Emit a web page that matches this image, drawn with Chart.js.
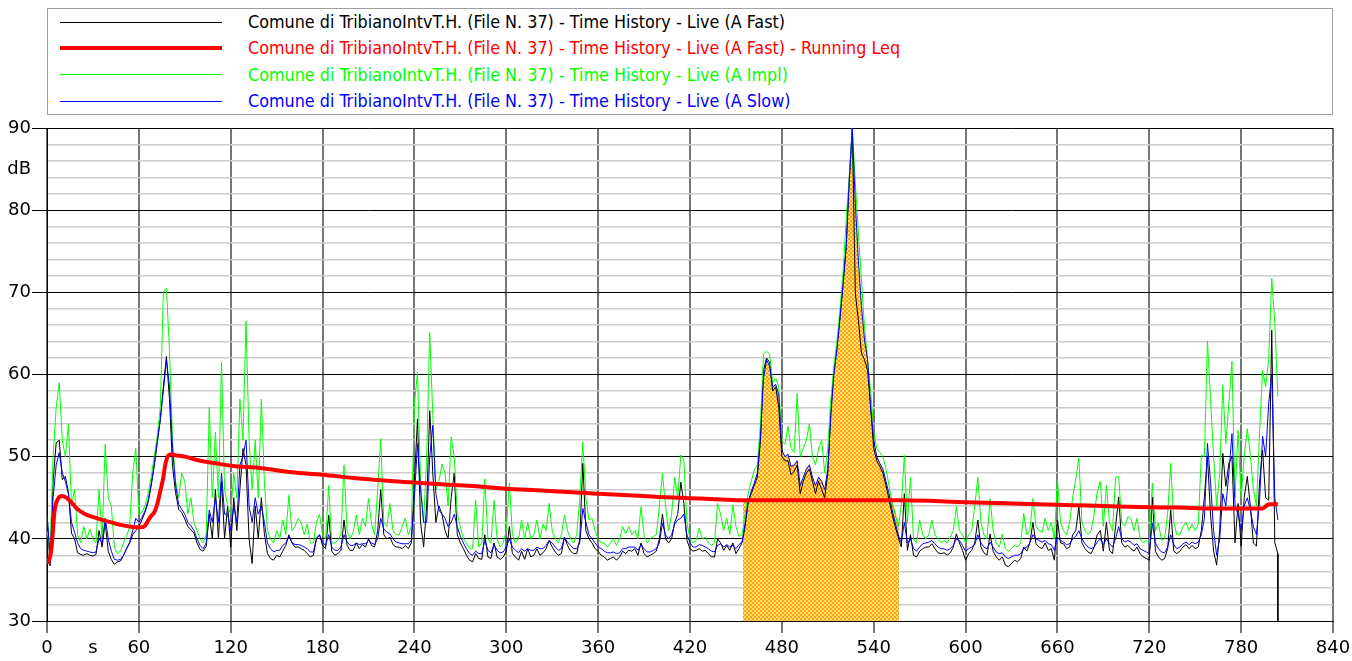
<!DOCTYPE html>
<html>
<head>
<meta charset="utf-8">
<script src="https://cdn.jsdelivr.net/npm/chart.js@4.4.1/dist/chart.umd.min.js"></script>
<style>
  body { margin: 0; background: #fff; }
  #wrap { position: relative; width: 1352px; height: 661px; }
  #legend {
    position: absolute; left: 47px; top: 8px; width: 1286px; height: 107px;
    box-sizing: border-box; border: 1px solid #a0a0a0; background: #fff;
    font-family: "DejaVu Sans Condensed", "DejaVu Sans", sans-serif; font-size: 17.8px;
  }
  .row { position: absolute; left: 0; width: 100%; height: 20px; }
  .swatch { position: absolute; left: 12px; width: 162px; }
  .label { position: absolute; left: 200px; top: 0; line-height: 20px; white-space: nowrap; }
</style>
</head>
<body>
<div id="wrap">
  <canvas id="chart" width="1352" height="661"></canvas>
  <div id="legend"></div>
</div>
<script>
// legend / series names
const seriesNames = [
  'Comune di TribianoIntvT.H. (File N. 37) - Time History - Live (A Fast)',
  'Comune di TribianoIntvT.H. (File N. 37) - Time History - Live (A Fast) - Running Leq',
  'Comune di TribianoIntvT.H. (File N. 37) - Time History - Live (A Impl)',
  'Comune di TribianoIntvT.H. (File N. 37) - Time History - Live (A Slow)'
];
const seriesColors = ['#000000', '#ff0000', '#00ff00', '#0000ff'];

// axis ticks
const xTickStep = 60;
const yTickStep = 2;
const xUnitLabel = { value: 30, text: 's' };
const yUnitLabel = { value: 85, text: 'dB' };

// sampled levels, one value every 2 s starting at 0 s
const sampleStep = 2;

const fastA = [
  43, 36.7, 47, 51.7, 52, 47.2, 47.6, 45.6, 40.7, 40,
  38.3, 38.1, 38, 38.2, 38, 37.9, 38.1, 41, 39, 42,
  38.5, 37.5, 36.9, 37.2, 37.3, 38, 38.8, 39.5, 40.5, 41,
  41.5, 42.3, 43.2, 44.4, 46.4, 48.8, 51.7, 54.5, 58.5, 62.2,
  57, 48.8, 45.6, 43.6, 43.2, 42.4, 41.5, 41.1, 40.7, 39.5,
  38.7, 38.5, 39.1, 43, 40, 46, 40, 47, 40, 44,
  39, 45, 41, 46, 51, 49, 40, 37, 44, 40,
  45, 40.6, 38.2, 37.6, 37.4, 38, 37.8, 38.5, 39.2, 40.5,
  39.5, 39, 39, 38.8, 38.6, 38.2, 37.8, 38, 40, 40.5,
  39.2, 38.8, 42.9, 38.5, 38, 38.2, 38.6, 42.3, 39.2, 38.6,
  38.6, 39.5, 38.8, 39.3, 39, 40, 39.2, 39, 41, 46,
  40.5, 40, 40.2, 39.3, 39, 39, 38.8, 39.2, 38.8, 39.5,
  47, 54.6, 42, 39, 44, 55.6, 48, 42, 44, 43,
  41, 40, 45, 48, 40.5, 39.5, 38.8, 38, 37.4, 37.2,
  38.2, 37.6, 37.5, 40.5, 37.8, 37.6, 39.5, 37.8, 37.5, 37.8,
  38.5, 41.5, 38.2, 37.8, 37.4, 38.5, 37.5, 38.8, 37.8, 38,
  38.8, 38, 38.3, 38.8, 39.8, 39, 38.4, 38, 38.2, 40.2,
  39.2, 38.5, 38.2, 38.2, 40, 49.2, 41, 40, 39.5, 38.8,
  38.5, 38, 37.8, 37.4, 37.6, 37.8, 37.4, 37.8, 38.5, 38.2,
  38.6, 38.5, 38.8, 38, 39.5, 38.2, 37.8, 38, 38.2, 38.5,
  40, 43, 40, 39.5, 40, 42, 43, 46.9, 44.3, 39.8,
  38.8, 38.5, 38.6, 38.8, 38.5, 38.6, 38.2, 37.8, 37.8, 40,
  39.5, 38.6, 39.2, 38.6, 39.5, 38.2, 38.8, 39.5, 41.5, 44.5,
  45.5, 46.5, 47.5, 52, 60.5, 62, 61.5, 58, 58.5, 56,
  50, 49.5, 49.5, 47.8, 48.2, 49, 45.5, 47, 48, 48.5,
  47, 45.5, 47, 46, 45, 48, 55.5, 60.5, 63.5, 67,
  71, 75.5, 83.5, 90, 69.9, 66.6, 62.6, 61.8, 60.5, 56,
  51, 49.5, 48.8, 48, 46.5, 44.8, 43, 41.5, 40.2, 39,
  45.5, 38.6, 40.5, 38, 37.8, 38.5, 38.8, 39, 39, 39.4,
  38.8, 38.3, 38.2, 38.3, 38, 38.3, 39, 40.6, 39.5, 38.6,
  37.4, 38.2, 38.6, 39.5, 42.3, 39, 38.3, 38, 40.6, 38.5,
  37.8, 37.4, 37.8, 36.8, 36.6, 37, 37.4, 37.2, 37.6, 39,
  38.5, 39.5, 42, 39.4, 39, 38.8, 39.5, 38.6, 38.8, 37.4,
  42.3, 39.5, 39.4, 38.8, 39, 40.5, 41, 43.9, 39.5, 38.8,
  38.4, 38.2, 39, 40.5, 41, 38.5, 42, 38.6, 38.2, 41.5,
  45.1, 39.5, 39, 39.2, 38.8, 38.5, 39, 38.2, 37.8, 37.6,
  37.4, 45.1, 38.5, 37.8, 37.4, 37.6, 38.8, 43.5, 38.5, 38.2,
  38.5, 39, 39.3, 38.8, 39.2, 38.8, 39, 41, 45.1, 50,
  43, 38.5, 36.8, 41, 50.4, 46.4, 49.2, 50, 39.5, 44.3,
  39.1, 45, 47.6, 44, 39.5, 39.1, 46.8, 50.8, 45, 44.7,
  65.4, 39.5, 38.2
];
const fastEndDrop = 30;

const implA = [
  41, 38.5, 50, 56, 59, 52, 50, 54, 44, 46,
  40.5, 39.5, 41.5, 40, 41.2, 40, 39.5, 46, 40, 51.5,
  45, 44, 39, 38.2, 38.5, 39.5, 40.3, 41.5, 48, 51,
  43, 43.2, 44, 45.5, 47.5, 50, 52.5, 56, 70, 70.5,
  63, 52, 47, 45, 48, 47, 43, 45, 42, 41,
  40, 39.5, 40.5, 56, 45, 53, 45, 61.5, 46, 44,
  43, 48, 45, 57, 52, 66.5, 52, 46, 52, 45,
  57, 47, 41, 40, 39.5, 41, 40, 42.3, 40.5, 45.3,
  41, 41.5, 42.5, 42, 40.5, 41.8, 39.5, 39.5, 42, 43,
  40.5, 40, 46.5, 39.5, 39.5, 39.8, 40.5, 49, 41, 40,
  40.8, 42.9, 40.5, 42.5, 41.5, 44.9, 41.8, 40.5, 46, 52.2,
  42, 41.5, 44.3, 41, 40.5, 40.5, 41.5, 42.5, 40.5, 41.5,
  56.4, 60.3, 47, 42, 50, 65.1, 55, 46, 47, 49.1,
  48, 44, 52.4, 50, 43, 41.5, 40, 39.5, 38.8, 38.8,
  44.7, 39, 39.5, 47.3, 40, 39.5, 44.7, 40, 39, 39.5,
  41, 46.8, 40.5, 39.5, 40, 42.3, 40, 42, 40, 40.5,
  42.3, 40, 41.8, 41, 44.3, 41, 40, 39.5, 40.5, 42.9,
  41, 40, 39.5, 40.5, 44.9, 51.8, 45, 42.3, 42.5, 41,
  40, 39.5, 39.5, 39, 39.5, 40, 39.2, 40, 41.5, 40.6,
  41.5, 40.5, 41, 40, 43.9, 40.5, 39.5, 40, 40.3, 40.5,
  44, 48, 44, 41, 43, 47.5, 45, 50.2, 49.6, 42,
  40, 39.5, 39.8, 41.3, 40, 40.2, 39.5, 39.2, 39.5, 44.3,
  43, 41, 42.5, 40.5, 44.1, 41.5, 40.3, 40.5, 43, 45.5,
  47, 48.4, 49, 54, 62.5, 62.8, 62.5, 59, 59.5, 58.5,
  52, 51.5, 53.7, 51, 50.5, 57.7, 50, 51, 52, 54,
  50, 49, 51, 52, 48, 51, 57, 61, 64, 68,
  72.5, 78.8, 84, 90, 83.3, 77.2, 71.5, 65.8, 61.8, 58,
  53, 51, 50.5, 50, 48.5, 46.5, 44.5, 43, 41.5, 44,
  50.2, 42, 47.5, 40, 39.5, 42.3, 40.5, 40, 40.5, 42.3,
  40.5, 40, 39.5, 39.8, 39.5, 40.2, 41, 43.9, 41, 40.5,
  39.5, 40.5, 41, 44, 47.5, 42, 40.5, 40, 44.9, 41,
  39.5, 39, 40.6, 38.8, 38.5, 38.8, 39.2, 39, 39.5, 43.1,
  40.5, 41, 44.9, 41.5, 41, 40.8, 42.5, 41, 42, 40,
  47.3, 42, 41, 40.5, 42, 45.1, 47.3, 49.8, 42, 41,
  40.5, 41, 43, 45.7, 47, 41.5, 46.5, 42, 41, 47.5,
  47.6, 42, 41.5, 42.7, 42.5, 41, 42.5, 40, 39.5, 39.8,
  39.5, 46.8, 41, 41.9, 39.8, 40, 43.1, 49.2, 42, 40.5,
  40.5, 41.5, 42, 41, 41.8, 41, 41.8, 50.2, 50, 64.1,
  57, 50, 44, 48, 58.7, 51.6, 56.5, 61.6, 45, 53.2,
  45, 50, 53.4, 50.2, 46, 44, 52.8, 60.5, 58.5, 61.8,
  71.7, 66.2, 57.3
];

const slowA = [
  43, 38, 45, 49, 50.5, 48, 47, 45.5, 42, 40.8,
  39.5, 38.8, 38.6, 38.5, 38.4, 38.3, 38.4, 40, 39.5, 42.5,
  40, 38.5, 37.5, 37.4, 37.5, 38, 38.8, 39.6, 41, 42.5,
  42, 42.6, 43.4, 44.6, 46.6, 49, 51.8, 54.5, 58, 61.8,
  58.5, 51, 46.5, 44.2, 43.6, 43, 42, 41.6, 41, 40,
  39.2, 38.8, 39.5, 43.5, 42, 45, 42, 48, 43, 43,
  41, 44, 42, 49, 50, 52, 44, 42, 45, 43,
  44, 42, 39.5, 38.8, 38.4, 38.6, 38.6, 39.2, 39.5, 40.3,
  39.6, 39.3, 39.3, 39.2, 39, 38.8, 38.4, 38.4, 40, 40.5,
  39.6, 39.2, 40.5, 39, 38.6, 38.6, 39, 40.5, 39.6, 39.2,
  39.2, 39.5, 39.3, 39.4, 39.4, 39.8, 39.5, 39.3, 40, 42.5,
  41.2, 40.8, 40.6, 40, 39.6, 39.5, 39.4, 39.4, 39.4, 39.8,
  45, 51.6, 46, 42, 42, 50, 53.8, 45.5, 43.5, 43,
  42.5, 41.5, 42, 43, 41.5, 40.3, 39.5, 38.8, 38.2, 38,
  38.5, 38.2, 38.2, 39.8, 38.6, 38.3, 39.3, 38.6, 38.3, 38.4,
  39, 40, 39, 38.6, 38.3, 38.8, 38.5, 38.8, 38.6, 38.6,
  39, 38.8, 38.8, 39.2, 39.8, 39.5, 39, 38.6, 38.8, 40.2,
  39.6, 39.2, 38.8, 38.8, 39.5, 43.7, 42, 40.5, 40, 39.5,
  39, 38.8, 38.5, 38.3, 38.3, 38.4, 38.2, 38.3, 38.8, 38.8,
  39, 39, 39, 38.6, 39.3, 38.8, 38.4, 38.4, 38.6, 38.8,
  39.5, 41.9, 40.5, 40, 40.5, 41.8, 42.3, 42.5, 43, 40.5,
  39.5, 39, 39, 39.3, 39.2, 39, 38.8, 38.5, 38.4, 39.2,
  39.4, 39, 39.3, 39, 39.2, 38.8, 39.3, 39.6, 41.8, 44.5,
  45.8, 46.8, 48, 52.4, 59.5, 61.8, 61, 58.5, 58.8, 57.5,
  50.8, 50, 50.3, 48.8, 49, 49.5, 46.5, 47.5, 48.5, 49,
  47.5, 46.5, 47.5, 47, 46, 48.5, 55, 60, 63, 67,
  71, 75.6, 83.7, 90, 80.8, 73.9, 68.3, 64.2, 61.8, 56.1,
  52, 50, 49.2, 48.5, 47, 45.5, 43.5, 42, 40.5, 39.5,
  42, 39.5, 40, 38.8, 38.5, 39, 39.4, 39.5, 39.6, 39.8,
  39.4, 39, 38.8, 38.8, 38.6, 38.8, 39.2, 40, 39.8, 39.2,
  38.5, 38.8, 39, 39.3, 40.5, 39.5, 39, 38.8, 39.6, 39,
  38.4, 38.2, 38.3, 37.8, 37.6, 37.8, 38, 38, 38.2, 38.8,
  39, 39.5, 40.5, 40, 39.8, 39.6, 39.8, 39.4, 39.3, 38.6,
  40.2, 39.8, 39.6, 39.3, 39.4, 40, 40.3, 41, 40, 39.4,
  39, 38.8, 39, 39.6, 40, 39.3, 40, 39.4, 39, 40,
  41.5, 40, 39.6, 39.8, 39.6, 39.2, 39.4, 38.8, 38.6, 38.4,
  38.2, 41.9, 39.5, 38.8, 38.4, 38.3, 39, 40.5, 39.3, 38.8,
  39, 39.4, 39.6, 39.3, 39.6, 39.4, 39.6, 40.5, 42.5, 51.6,
  47, 41, 38, 40, 45.5, 44, 48, 52.8, 44, 43,
  41, 44, 45, 43.5, 41.5, 40.5, 44.5, 52.5, 50, 56.5,
  60, 45, 42.3
];

// running Leq (smooth), own time base
const leqTimes = [
  0, 2, 3, 5, 7, 10, 14, 20, 25, 31,
  36, 42, 48, 54, 58, 62, 64, 66, 68, 70,
  72, 74, 76, 77, 78, 79, 81, 83, 90, 100,
  110, 120, 140, 160, 180, 200, 220, 240, 260, 280,
  300, 320, 340, 360, 380, 400, 420, 440, 455, 557,
  580, 600, 620, 640, 660, 680, 700, 720, 740, 760,
  780, 794, 797, 799, 804
];
const leqValues = [
  37, 37.8, 39, 43.5, 44.8, 45.2, 44.8, 43.6, 43, 42.6,
  42.3, 42, 41.7, 41.5, 41.4, 41.4, 41.6, 42.2, 42.8, 43.2,
  44.2, 45.8, 47.5, 48.8, 49.6, 50.1, 50.3, 50.2, 50, 49.5,
  49.2, 48.9, 48.6, 48.1, 47.8, 47.4, 47.1, 46.85, 46.6, 46.4,
  46.1, 45.9, 45.7, 45.5, 45.3, 45.1, 44.95, 44.8, 44.7, 44.7,
  44.6, 44.45, 44.35, 44.25, 44.15, 44.05, 43.95, 43.85, 43.8, 43.7,
  43.7, 43.7, 44.1, 44.2, 44.2
];

// masked (excluded) region outline
const maskTimes = [
  454.6, 456, 458,
  460, 462, 464, 466, 468, 470, 472, 474, 476, 478,
  480, 482, 484, 486, 488, 490, 492, 494, 496, 498,
  500, 502, 504, 506, 508, 510, 512, 514, 516, 518,
  520, 522, 524, 526, 528, 530, 532, 534, 536, 538,
  540, 542, 544, 546, 548, 550, 552, 554, 556, 556.6
];
const maskValues = [
  44.7, 44.7, 44.7,
  45.8, 46.8, 48, 52.4, 59.5, 61.8, 61, 58.5, 58.8, 57.5,
  50.8, 50, 50.3, 48.8, 49, 49.5, 46.5, 47.5, 48.5, 49,
  47.5, 46.5, 47.5, 47, 46, 48.5, 55, 60, 63, 67,
  71, 75.6, 83.7, 90, 80.8, 73.9, 68.3, 64.2, 61.8, 56.1,
  52, 50, 49.2, 48.5, 47, 45.5, 44.7, 43.5, 42, 41.5
];

const seconds = fastA.map((_, i) => i * sampleStep);
const toPoints = (xs, ys) => ys.map((y, i) => ({ x: xs[i], y: y }));

const fastPoints = toPoints(seconds, fastA);
fastPoints.push({ x: seconds[seconds.length - 1], y: fastEndDrop });

// legend (html)
const legendEl = document.getElementById('legend');
const legendWidths = [1, 4, 1, 1];
seriesNames.forEach((name, i) => {
  const row = document.createElement('div');
  row.className = 'row';
  row.style.top = (3 + i * 26.4) + 'px';
  const sw = document.createElement('div');
  sw.className = 'swatch';
  sw.style.height = legendWidths[i] + 'px';
  sw.style.top = (10 - legendWidths[i] / 2) + 'px';
  sw.style.background = seriesColors[i];
  const lb = document.createElement('div');
  lb.className = 'label';
  lb.style.color = seriesColors[i];
  lb.textContent = name;
  row.appendChild(sw);
  row.appendChild(lb);
  legendEl.appendChild(row);
});

function hatchPattern() {
  const c = document.createElement('canvas');
  c.width = 4; c.height = 4;
  const g = c.getContext('2d');
  g.fillStyle = '#ffa010';
  g.fillRect(0, 0, 4, 4);
  g.fillStyle = '#ffe070';
  g.fillRect(0, 0, 2, 2);
  g.fillRect(2, 2, 2, 2);
  return g.createPattern(c, 'repeat');
}

const tickFont = { family: '"DejaVu Sans", sans-serif', size: 18 };

new Chart(document.getElementById('chart'), {
  type: 'line',
  data: {
    datasets: [
      {
        label: seriesNames[1], data: toPoints(leqTimes, leqValues),
        borderColor: seriesColors[1], borderWidth: 4, cubicInterpolationMode: 'monotone', order: 0
      },
      { label: seriesNames[3], data: toPoints(seconds, slowA), borderColor: seriesColors[3], borderWidth: 1, order: 1 },
      { label: seriesNames[2], data: toPoints(seconds, implA), borderColor: seriesColors[2], borderWidth: 1, order: 2 },
      { label: seriesNames[0], data: fastPoints, borderColor: seriesColors[0], borderWidth: 1, order: 3 },
      {
        label: 'mask', data: toPoints(maskTimes, maskValues),
        borderWidth: 0, borderColor: 'rgba(0,0,0,0)', backgroundColor: hatchPattern(), fill: 'start', order: 4
      }
    ]
  },
  options: {
    responsive: false,
    animation: false,
    layout: { padding: { top: 128, right: 19, left: 0, bottom: 0 } },
    elements: { point: { radius: 0 }, line: { tension: 0 } },
    plugins: { legend: { display: false }, tooltip: { enabled: false } },
    scales: {
      x: {
        type: 'linear', min: 0, max: 840,
        afterFit: s => { s.height = 40; },
        afterBuildTicks: s => { s.ticks.push({ value: xUnitLabel.value }); },
        ticks: {
          stepSize: xTickStep, autoSkip: false, maxRotation: 0, color: '#000', font: tickFont, padding: 5,
          callback: v => v === xUnitLabel.value ? xUnitLabel.text : String(v)
        },
        grid: {
          color: c => c.tick && c.tick.value === xUnitLabel.value ? 'rgba(0,0,0,0)' : '#767676',
          tickColor: c => c.tick && c.tick.value === xUnitLabel.value ? 'rgba(0,0,0,0)' : '#767676',
          lineWidth: 2, tickLength: 12
        },
        border: { color: '#000', width: 1 }
      },
      y: {
        min: 30, max: 90,
        afterFit: s => { s.width = 47; },
        afterBuildTicks: s => { s.ticks.push({ value: yUnitLabel.value }); },
        ticks: {
          stepSize: yTickStep, autoSkip: false, color: '#000', font: tickFont, padding: 1,
          callback: v => v === yUnitLabel.value ? yUnitLabel.text : (v % 10 === 0 ? String(v) : '')
        },
        grid: {
          color: c => {
            const v = c.tick ? c.tick.value : 0;
            if (v === yUnitLabel.value) return 'rgba(0,0,0,0)';
            return v % 10 === 0 ? '#000' : '#cccccc';
          },
          tickColor: c => c.tick && c.tick.value % 10 === 0 ? '#000' : 'rgba(0,0,0,0)',
          lineWidth: c => c.tick && c.tick.value % 10 === 0 ? 1 : 1.5,
          tickLength: 15
        },
        border: { color: '#000', width: 1 }
      }
    }
  }
});
</script>
</body>
</html>
